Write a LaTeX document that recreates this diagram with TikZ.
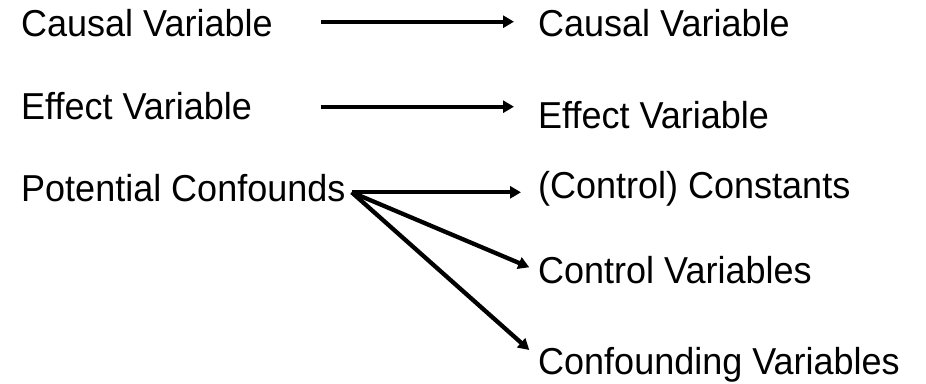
\documentclass[tikz,border=0pt]{standalone}
\usepackage{fontspec}
\setmainfont{Liberation Sans}[FakeStretch=0.96]
\usetikzlibrary{arrows.meta}
\begin{document}
\begin{tikzpicture}[x=1pt,y=-1pt,
  lbl/.style={anchor=base west,inner sep=0pt,font=\fontsize{37.5}{44}\selectfont},
  arr/.style={line width=4.3pt,-{Triangle[length=11pt,width=12pt]}}]
\useasboundingbox (0,0) rectangle (926,383);
% left column
\node[lbl] (c1) at (21,36.7) {Causal Variable};
\node[lbl] (e1) at (21,119.3) {Effect Variable};
\node[lbl] (p1) at (21,201.7) {Potential Confounds};
% right column
\node[lbl] (c2) at (538,36.7) {Causal Variable};
\node[lbl] (e2) at (538,128.5) {Effect Variable};
\node[lbl] (k2) at (538,198.3) {(Control) Constants};
\node[lbl] (v2) at (538,283.3) {Control Variables};
\node[lbl] (f2) at (538,374.5) {Confounding Variables};
% connector end points
\coordinate (c1s) at (320.7,21.7);
\coordinate (c2e) at (514,21.7);
\coordinate (e1s) at (320.7,106.7);
\coordinate (e2e) at (514,106.7);
\coordinate (p1s) at (351.7,192.3);
\coordinate (k2e) at (521,192.3);
\coordinate (v2e) at (529.3,267.3);
\coordinate (f2e) at (529.3,350);
% connectors
\draw[arr] (c1s) -- (c2e);
\draw[arr] (e1s) -- (e2e);
\draw[arr] (p1s) -- (k2e);
\draw[arr] (p1s) -- (v2e);
\draw[arr] (p1s) -- (f2e);
\end{tikzpicture}
\end{document}
